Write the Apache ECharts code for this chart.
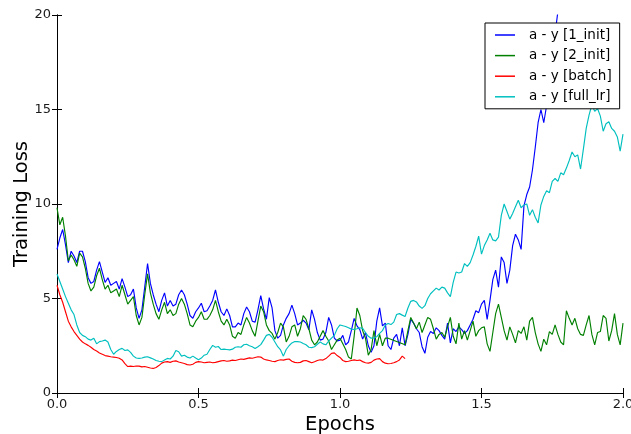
<!DOCTYPE html>
<html>
<head>
<meta charset="utf-8">
<script src="https://cdn.jsdelivr.net/npm/echarts@6/dist/echarts.min.js"></script>
<style>
  html, body { margin: 0; padding: 0; background: #fff; }
  #chart { width: 631px; height: 434px; }
</style>
</head>
<body>
<div id="chart"></div>
<script>
// Training loss per run, sampled every 0.01 epochs starting at epoch 0.
const STEP = 0.01;
const xTicks = [0, 0.5, 1.0, 1.5, 2.0];
const yTicks = [0, 5, 10, 15, 20];
const seriesNames = ['a - y [1_init]', 'a - y [2_init]', 'a - y [batch]', 'a - y [full_lr]'];

const loss1Init = [
  7.6, 8.2, 8.65, 7.85, 6.9, 7.5, 7.25, 6.9, 7.5, 7.5,
  6.95, 6.1, 5.8, 5.9, 6.5, 6.95, 6.4, 5.85, 6.1, 5.7,
  5.8, 5.9, 5.5, 6.05, 5.6, 5.1, 5.2, 5.5, 4.5, 3.95,
  4.4, 5.6, 6.85, 5.8, 5.2, 4.7, 4.3, 4.9, 5.3, 4.6,
  4.9, 4.6, 4.7, 5.2, 5.45, 5.2, 4.7, 4.1, 3.95, 4.3,
  4.5, 4.75, 4.3, 4.35, 4.6, 4.9, 5.45, 4.8, 4.3, 4.1,
  4.45, 4.1, 3.5, 3.5, 3.7, 3.6, 4.2, 4.55, 4.3, 3.8,
  3.75, 4.4, 5.15, 4.45, 3.9, 5.05, 4.5, 3.3, 2.9, 3.05,
  3.6, 3.95, 4.2, 4.65, 4.2, 3.6, 3.7, 3.85, 3.7, 3.35,
  4.4, 3.9, 3.2, 2.8, 2.85, 3.2, 4.0, 3.6, 2.9, 2.75,
  2.8, 3.05, 2.55, 2.7, 3.3, 3.95, 3.55, 3.35, 2.85, 3.2,
  2.5, 2.15, 2.5, 3.8, 4.5, 3.55, 3.7, 2.5, 2.3, 2.9,
  3.1, 2.5, 3.45, 2.5, 3.1, 3.9, 3.7, 3.4, 3.2, 2.45,
  2.1, 2.95, 3.25, 3.15, 3.45, 3.3, 3.05, 2.85, 3.7, 2.65,
  3.4, 3.25, 3.5, 3.35, 3.15, 3.3, 3.6, 3.9, 4.35, 4.25,
  4.7, 4.9, 3.9, 4.9, 6.0, 6.5, 5.6, 7.2, 6.9, 5.8,
  6.5, 7.8, 8.4, 8.1, 7.6, 9.9, 10.5, 10.9, 11.8, 13.0,
  14.3, 15.0, 14.3, 15.2, 16.5, 17.8, 19.0, 20.2, 21.5
];

// null marks epochs with no logged value for this run
const loss2Init = [
  9.8, 8.9, 9.3, 8.3, 7.0, 7.3, 7.05, 6.7, 7.4, 7.2,
  6.6, 5.8, 5.4, 5.6, 6.2, 6.6, 6.0, 5.5, 5.7, 5.3,
  5.4, 5.5, 5.1, 5.7, 5.2, 4.7, 4.9, 5.1, 4.1, 3.6,
  4.0, 5.2, 6.3, 5.3, 4.7, 4.2, 3.9, 4.4, 4.8, 4.2,
  4.4, 4.1, 4.2, 4.7, 5.0, 4.7, 4.2, 3.6, 3.5, 3.8,
  4.0, 4.3, 3.9, 3.9, 4.1, 4.4, 4.9, 4.3, 3.8, 3.6,
  3.9, 3.6, 3.0, 2.9, 3.2, 3.1, 3.6, 4.0, 3.7, 3.3,
  3.0, 3.8, 4.6, 4.3, 3.6, 3.3, 3.15, 2.85, 3.2, 3.7,
  3.5, 2.7, 3.0, 3.5, 3.6, 3.0, 3.4, 4.1, 3.9, 3.4,
  2.8, 2.55, 2.7, 3.0, 3.3, 3.0, 2.75, 2.3, 2.55, 2.8,
  2.9, 2.6, 2.3, 1.9, 1.8, 3.0, 4.5, 4.1, 3.3, 2.9,
  2.0, 2.3, 3.3, 2.5, 3.1, 2.5, 2.9, 2.9, null, null,
  null, null, null, 2.55, 3.3, 4.0, 3.7, 3.4, 3.75, 3.2,
  3.6, 4.0, 3.9, 3.4, 2.85, 3.1, 3.2, 2.95, 3.5, 4.0,
  3.0, 2.6, 3.7, 2.85, 3.3, 2.8, 3.3, 3.8, 3.0, 3.3,
  3.45, 3.5, 2.6, 2.2, 3.2, 4.2, 4.7, 4.0, 3.3, 2.8,
  3.5, 3.1, 2.65, 3.3, 3.15, 3.5, 2.8, 3.8, 4.0, 3.2,
  2.6, 2.2, 2.85, 2.55, 3.25, 3.1, 3.6, 3.1, 2.7, 2.55,
  4.35, 3.95, 3.6, 3.95, 3.4, 3.1, 3.05, 3.6, 4.1, 3.1,
  2.55, 3.2, 3.25, 4.1, 3.95, 2.75, 3.3, 4.2, 3.1, 2.55,
  3.7
];

const lossBatch = [
  5.7, 5.2, 4.8, 4.3, 3.8, 3.5, 3.25, 3.05, 2.85, 2.7,
  2.6, 2.52, 2.42, 2.3, 2.22, 2.12, 2.05, 1.98, 1.95, 1.92,
  1.9, 1.88, 1.84, 1.75, 1.55, 1.4, 1.42, 1.4, 1.43, 1.42,
  1.38, 1.4, 1.36, 1.32, 1.3, 1.35, 1.45, 1.58, 1.64, 1.66,
  1.62, 1.68, 1.7, 1.64, 1.6, 1.56, 1.5, 1.48, 1.52, 1.62,
  1.66, 1.64, 1.6, 1.62, 1.64, 1.6, 1.62, 1.66, 1.7, 1.72,
  1.68, 1.7, 1.74, 1.72, 1.76, 1.8, 1.78, 1.82, 1.86, 1.84,
  1.88, 1.92, 1.9, 1.8, 1.75, 1.72, 1.68, 1.66, 1.72, 1.76,
  1.74, 1.78, 1.8, 1.68, 1.62, 1.6, 1.62, 1.7, 1.72, 1.66,
  1.6, 1.65, 1.72, 1.76, 1.74, 1.82, 1.95, 2.1, 2.12, 1.98,
  1.88, 1.72, 1.66, 1.68, 1.72, 1.75, 1.72, 1.74, 1.66, 1.6,
  1.58, 1.62, 1.74, 1.8, 1.82, 1.66, 1.58, 1.55, 1.56, 1.6,
  1.66, 1.75, 1.95, 1.82
];

const lossFullLr = [
  6.3, 5.9, 5.5, 5.1, 4.75, 4.4, 4.15, 3.6, 3.2, 3.05,
  2.98, 2.85, 2.8, 2.9, 2.6, 2.72, 2.75, 2.8, 2.7, 2.3,
  2.05, 2.2, 2.3, 2.36, 2.25, 2.28, 2.15, 1.95, 1.85, 1.83,
  1.85, 1.9, 1.92, 1.86, 1.8, 1.72, 1.68, 1.66, 1.75, 1.83,
  1.8, 1.95, 2.25, 2.18, 1.95, 2.0, 1.9, 1.85, 1.95, 1.85,
  1.76, 1.85, 2.0, 2.05, 2.3, 2.52, 2.42, 2.46, 2.3, 2.32,
  2.3, 2.28, 2.32, 2.42, 2.45, 2.42, 2.55, 2.58, 2.5, 2.45,
  2.36, 2.45, 2.56, 2.8, 3.05, 3.1, 2.95, 2.7, 2.45, 2.28,
  1.95, 2.3, 2.5, 2.65, 2.72, 2.72, 2.7, 2.62, 2.55, 2.42,
  2.4, 2.45, 2.58, 2.7, 2.6, 2.55, 2.75, 2.9, 3.05, 3.4,
  3.6, 3.56, 3.52, 3.45, 3.38, 3.36, 3.4, 3.45, 3.42, 3.2,
  3.0, 2.9, 2.92, 2.98, 3.15, 3.3, 3.6, 3.68, 3.62, 3.75,
  4.15, 4.2, 4.12, 4.05, 4.5, 4.85, 4.9, 4.82, 4.6, 4.48,
  4.62, 5.0, 5.25, 5.4, 5.55, 5.45, 5.6, 5.55, 5.3, 5.1,
  5.85, 6.4, 6.35, 6.4, 6.85, 6.7, 6.9, 7.3, 7.75, 8.3,
  7.35, 7.8, 8.1, 8.45, 8.1, 8.05, 8.25, 9.4, 10.0, 9.6,
  9.2, 9.5, 9.85, 10.2, 9.8, 9.95, 10.0, 9.4, 9.7, 9.3,
  9.0, 9.95, 10.4, 10.7, 10.6, 11.2, 11.35, 11.2, 11.65, 11.55,
  11.9, 12.3, 12.75, 12.5, 12.6, 11.85, 12.9, 14.0, 14.7, 15.25,
  14.9, 15.05, 14.65, 13.85, 14.25, 14.35, 14.0, 13.85, 13.55, 12.8,
  13.7
];

const seriesColors = ['#0000ff', '#008000', '#ff0000', '#00bfbf'];
const seriesValues = [loss1Init, loss2Init, lossBatch, lossFullLr];

function toPoints(values) {
  return values.map((v, i) => [Math.round(i * STEP * 100) / 100, v]);
}

const FONT = 'DejaVu Sans';
const xMin = xTicks[0], xMax = xTicks[xTicks.length - 1], xInt = xTicks[1] - xTicks[0];
const yMin = yTicks[0], yMax = yTicks[yTicks.length - 1], yInt = yTicks[1] - yTicks[0];

const frameLine = { show: true, lineStyle: { color: '#000', width: 1 } };
const innerTick = { show: true, inside: true, length: 5, lineStyle: { color: '#000', width: 1 } };

const chart = echarts.init(document.getElementById('chart'), null, { renderer: 'canvas' });
chart.setOption({
  animation: false,
  backgroundColor: '#fff',
  grid: { left: 57, top: 15, width: 566, height: 378, containLabel: false, outerBoundsMode: 'none' },
  xAxis: [
    {
      type: 'value', position: 'bottom', min: xMin, max: xMax, interval: xInt,
      axisLine: frameLine, axisTick: innerTick, splitLine: { show: false },
      axisLabel: { formatter: v => v.toFixed(1), color: '#1a1a1a', fontSize: 13, fontFamily: FONT, margin: 5, showMaxLabel: true, showMinLabel: true, hideOverlap: false },
      name: 'Epochs', nameLocation: 'middle', nameGap: 22, nameMoveOverlap: false,
      nameTextStyle: { fontSize: 19.5, fontFamily: FONT, color: '#000', verticalAlign: 'top' }
    },
    {
      type: 'value', position: 'top', min: xMin, max: xMax, interval: xInt,
      axisLine: frameLine, axisTick: innerTick, splitLine: { show: false },
      axisLabel: { show: false }
    }
  ],
  yAxis: [
    {
      type: 'value', position: 'left', min: yMin, max: yMax, interval: yInt,
      axisLine: frameLine, axisTick: innerTick, splitLine: { show: false },
      axisLabel: { color: '#1a1a1a', fontSize: 13, fontFamily: FONT, margin: 6, showMaxLabel: true, showMinLabel: true, hideOverlap: false },
      name: 'Training Loss', nameLocation: 'middle', nameGap: 25, nameMoveOverlap: false,
      nameTextStyle: { fontSize: 19.5, fontFamily: FONT, color: '#000' }
    },
    {
      type: 'value', position: 'right', min: yMin, max: yMax, interval: yInt,
      axisLine: frameLine, axisTick: innerTick, splitLine: { show: false },
      axisLabel: { show: false }
    }
  ],
  legend: {
    data: seriesNames,
    orient: 'vertical',
    left: 485, top: 23,
    backgroundColor: '#fff',
    borderColor: '#000', borderWidth: 1, borderRadius: 0,
    padding: [4, 8, 4, 10],
    icon: 'rect',
    itemWidth: 20, itemHeight: 1.5, itemGap: 4.6,
    textStyle: { fontSize: 13.5, fontFamily: FONT, color: '#000', lineHeight: 16, padding: [0, 0, 0, 9] }
  },
  series: seriesNames.map((name, k) => ({
    name,
    type: 'line',
    xAxisIndex: 0, yAxisIndex: 0,
    data: toPoints(seriesValues[k]),
    showSymbol: false, symbol: 'none',
    connectNulls: true,
    clip: true,
    color: seriesColors[k],
    lineStyle: { color: seriesColors[k], width: 1.15 },
    emphasis: { disabled: true }
  }))
});
</script>
</body>
</html>
